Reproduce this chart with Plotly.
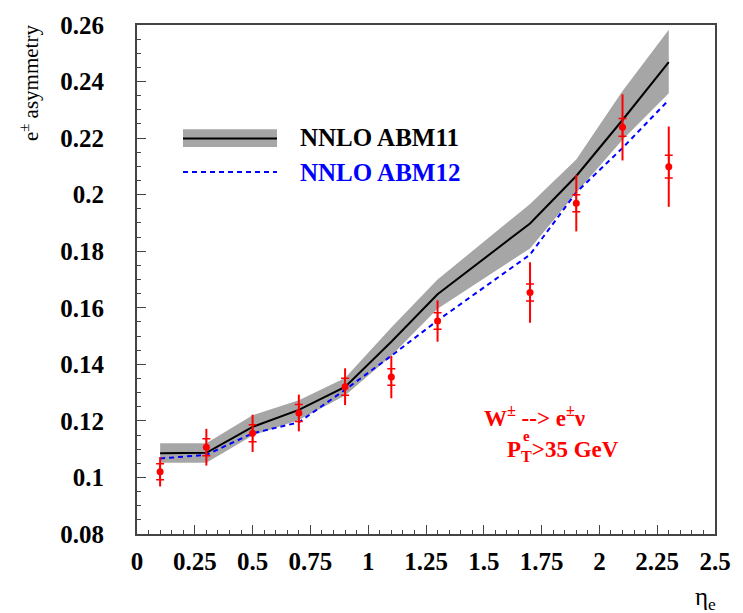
import plotly.graph_objects as go

# ---------------- data ----------------
eta_theory = [0.1, 0.3, 0.5, 0.7, 0.9, 1.1, 1.3, 1.7, 1.9, 2.1, 2.3]
abm11_central = [0.1086, 0.1087, 0.1179, 0.1239, 0.1320, 0.1480, 0.1648, 0.1898, 0.2066, 0.2264, 0.2469]
abm11_upper = [0.1121, 0.1121, 0.1220, 0.1273, 0.1352, 0.1530, 0.1700, 0.1967, 0.2124, 0.2367, 0.2583]
abm11_lower = [0.1052, 0.1052, 0.1148, 0.1203, 0.1290, 0.1430, 0.1597, 0.1810, 0.2007, 0.2194, 0.2359]
abm12_central = [0.1067, 0.1080, 0.1156, 0.1195, 0.1310, 0.1430, 0.1555, 0.1788, 0.2008, 0.2165, 0.2335]

eta_data = [0.1, 0.3, 0.5, 0.7, 0.9, 1.1, 1.3, 1.7, 1.9, 2.1, 2.3]
asym_data = [0.1020, 0.1107, 0.1156, 0.1228, 0.1321, 0.1355, 0.1553, 0.1654, 0.1970, 0.2238, 0.2099]
err_total = [0.0052, 0.0065, 0.0066, 0.0065, 0.0065, 0.0075, 0.0073, 0.0107, 0.0100, 0.0117, 0.0142]
err_stat = [0.0028, 0.0030, 0.0030, 0.0030, 0.0030, 0.0029, 0.0029, 0.0030, 0.0030, 0.0031, 0.0040]

x_tickvals = [0, 0.25, 0.5, 0.75, 1, 1.25, 1.5, 1.75, 2, 2.25, 2.5]
x_ticktext = ["0", "0.25", "0.5", "0.75", "1", "1.25", "1.5", "1.75", "2", "2.25", "2.5"]
y_tickvals = [0.08, 0.10, 0.12, 0.14, 0.16, 0.18, 0.20, 0.22, 0.24, 0.26]
y_ticktext = ["0.08", "0.1", "0.12", "0.14", "0.16", "0.18", "0.2", "0.22", "0.24", "0.26"]

FONT = "Liberation Serif, Times New Roman, serif"
GRAY = "#a6a6a6"
RED = "#ff0000"
BLUE = "#0000ff"

fig = go.Figure()

# ABM11 band
fig.add_trace(go.Scatter(x=eta_theory, y=abm11_lower, mode="lines",
                         line=dict(width=0, color=GRAY), showlegend=False, hoverinfo="skip"))
fig.add_trace(go.Scatter(x=eta_theory, y=abm11_upper, mode="lines", fill="tonexty",
                         fillcolor=GRAY, line=dict(width=0, color=GRAY), showlegend=False, hoverinfo="skip"))
# ABM11 central
fig.add_trace(go.Scatter(x=eta_theory, y=abm11_central, mode="lines",
                         line=dict(color="black", width=2), showlegend=False))
# ABM12
fig.add_trace(go.Scatter(x=eta_theory, y=abm12_central, mode="lines",
                         line=dict(color=BLUE, width=2, dash="5px,4px"), showlegend=False))
# data: total error
fig.add_trace(go.Scatter(x=eta_data, y=asym_data, mode="markers",
                         marker=dict(color=RED, size=7),
                         error_y=dict(type="data", array=err_total, color=RED, thickness=2, width=0),
                         showlegend=False))
# data: stat error ticks
fig.add_trace(go.Scatter(x=eta_data, y=asym_data, mode="markers",
                         marker=dict(color=RED, size=1, opacity=0),
                         error_y=dict(type="data", array=err_stat, color=RED, thickness=1.5, width=4),
                         showlegend=False))

axis_common = dict(
    showgrid=False, zeroline=False, showline=True, linecolor="#444444", linewidth=2,
    mirror=True, ticks="inside", tickcolor="#444444", tickwidth=1, ticklen=9,
    tickfont=dict(family=FONT, size=25, color="black", weight="bold"),
)

fig.update_xaxes(range=[0, 2.5], tickmode="array", tickvals=x_tickvals, ticktext=x_ticktext,
                 minor=dict(ticks="inside", ticklen=4, dtick=0.05, tickcolor="#444444"),
                 ticklabelstandoff=4, **axis_common)
fig.update_yaxes(range=[0.08, 0.26], tickmode="array", tickvals=y_tickvals, ticktext=y_ticktext,
                 minor=dict(ticks="inside", ticklen=4, dtick=0.005, tickcolor="#444444"),
                 ticklabelstandoff=26, **axis_common)

# legend drawn manually
shapes = [
    dict(type="rect", xref="paper", yref="paper", x0=0.0796, x1=0.2422, y0=0.7605, y1=0.795,
         fillcolor=GRAY, line=dict(width=0)),
    dict(type="line", xref="paper", yref="paper", x0=0.0796, x1=0.2422, y0=0.777, y1=0.777,
         line=dict(color="black", width=2)),
    dict(type="line", xref="paper", yref="paper", x0=0.0796, x1=0.2422, y0=0.711, y1=0.711,
         line=dict(color=BLUE, width=2, dash="5px,4px")),
]

annotations = [
    dict(text="NNLO ABM11", x=0.2785, y=0.778, xref="paper", yref="paper", xanchor="left",
         yanchor="middle", showarrow=False, font=dict(family=FONT, size=25, color="black", weight="bold")),
    dict(text="NNLO ABM12", x=0.2785, y=0.711, xref="paper", yref="paper", xanchor="left",
         yanchor="middle", showarrow=False, font=dict(family=FONT, size=25, color=BLUE, weight="bold")),
    dict(text="W<sup>±</sup> --&gt; e<sup>±</sup>ν", x=0.597, y=0.23, xref="paper", yref="paper",
         xanchor="left", yanchor="middle", showarrow=False,
         font=dict(family=FONT, size=23, color=RED, weight="bold")),
    dict(text="P<sub>T</sub>&gt;35 GeV", x=0.637, y=0.164, xref="paper", yref="paper",
         xanchor="left", yanchor="middle", showarrow=False,
         font=dict(family=FONT, size=23, color=RED, weight="bold")),
    dict(text="e", x=0.6735, y=0.192, xref="paper", yref="paper",
         xanchor="center", yanchor="middle", showarrow=False,
         font=dict(family=FONT, size=15, color=RED, weight="bold")),
    dict(text="e<sup>±</sup> asymmetry", x=-0.185, y=1.004, xref="paper", yref="paper",
         xanchor="center", yanchor="top", textangle=-90, showarrow=False,
         font=dict(family=FONT, size=21, color="black")),
    dict(text="η<sub>e</sub>", x=0.983, y=-0.126, xref="paper", yref="paper",
         xanchor="center", yanchor="middle", showarrow=False,
         font=dict(family=FONT, size=25, color="black")),
]

fig.update_layout(
    width=743, height=613,
    margin=dict(l=137, r=28, t=12, b=79),
    paper_bgcolor="white", plot_bgcolor="white",
    shapes=shapes, annotations=annotations, showlegend=False,
)

fig.write_html("out.html")
